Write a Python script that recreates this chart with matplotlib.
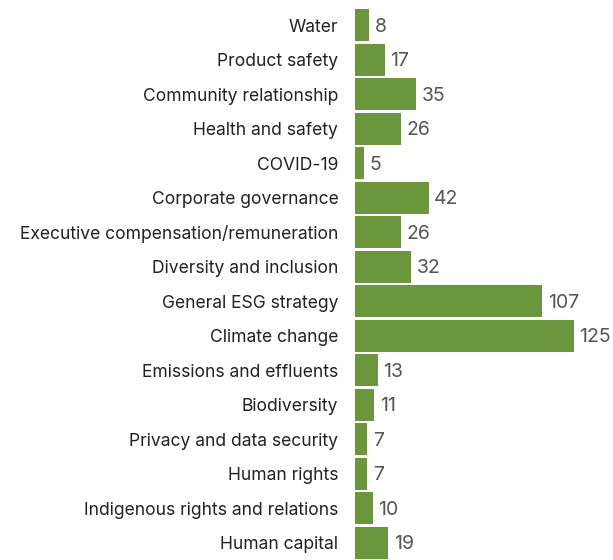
import matplotlib.pyplot as plt
import numpy as np

topics = ['Water', 'Product safety', 'Community relationship', 'Health and safety',
          'COVID-19', 'Corporate governance', 'Executive compensation/remuneration',
          'Diversity and inclusion', 'General ESG strategy', 'Climate change',
          'Emissions and effluents', 'Biodiversity', 'Privacy and data security',
          'Human rights', 'Indigenous rights and relations', 'Human capital']
counts = [8, 17, 35, 26, 5, 42, 26, 32, 107, 125, 13, 11, 7, 7, 10, 19]

fig = plt.figure(figsize=(6.13, 5.60), dpi=100)
ax = fig.add_axes([355/613, 0, 219/613, 552/560])

ind = np.arange(len(topics))
ax.barh(ind, counts, height=0.93, color='#6c963c')
ax.set_xlim(0, 125)
ax.set_ylim(15.5, -0.5)

for i, c in enumerate(counts):
    ax.annotate(str(c), (c, i + 0.05), xytext=(4, 0), textcoords='offset points',
                va='center', ha='left', fontsize=14, color='#555555',
                family='Inter', clip_on=False)

ax.set_yticks(ind)
ax.set_yticklabels(topics, fontsize=12.6, color='#222222', family='Inter')
ax.tick_params(axis='y', length=0, pad=12)
ax.set_xticks([])
for s in ax.spines.values():
    s.set_visible(False)

fig.savefig('out.png', dpi=100)
